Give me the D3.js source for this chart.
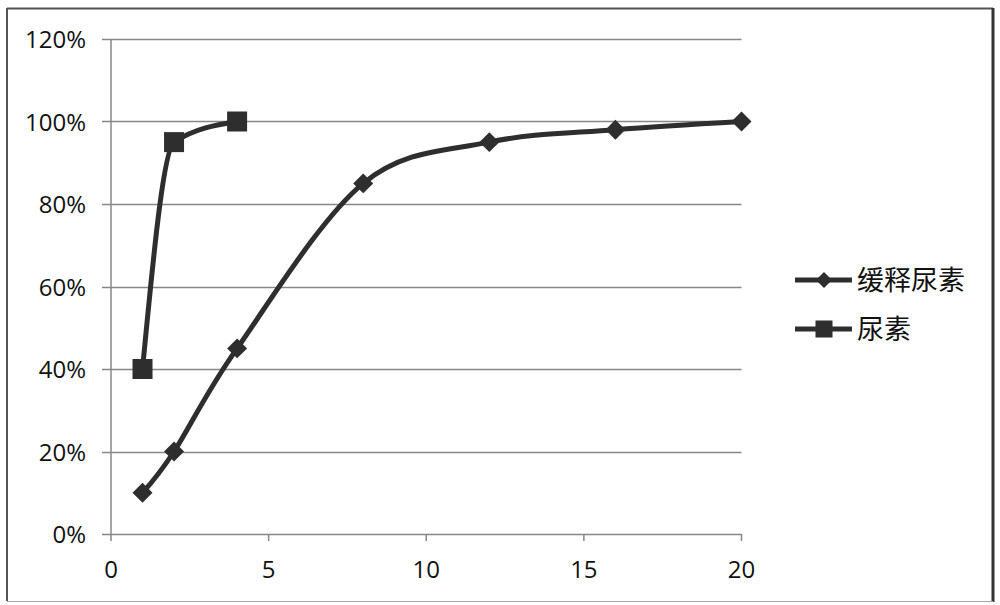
<!DOCTYPE html>
<html><head><meta charset="utf-8">
<script src="https://cdn.jsdelivr.net/npm/d3@7"></script>
<style>
html,body{margin:0;padding:0;background:#fff;}
svg{display:block;}
text{font-family:"Open Sans","Liberation Sans",sans-serif;fill:#111;}
</style></head>
<body><svg id="c" width="1000" height="605"></svg>
<script>
const seriesNames = ["缓释尿素", "尿素"];
const slowX = [1, 2, 4, 8, 12, 16, 20];
const slowY = [10, 20, 45, 85, 95, 98, 100];
const ureaX = [1, 2, 4];
const ureaY = [40, 95, 100];
const xTicks = [0, 5, 10, 15, 20];
const yTicks = [0, 20, 40, 60, 80, 100, 120];

const svg = d3.select("#c");
const col = "#2e2e2e";
const grid = "#878787";

// outer frame
svg.append("line").attr("x1",7).attr("x2",993).attr("y1",8.5).attr("y2",8.5).attr("stroke","#555").attr("stroke-width",2);
svg.append("line").attr("x1",7).attr("x2",7).attr("y1",8).attr("y2",601).attr("stroke","#555").attr("stroke-width",2);
svg.append("line").attr("x1",993).attr("x2",993).attr("y1",8).attr("y2",602).attr("stroke","#333").attr("stroke-width",3);
svg.append("line").attr("x1",7).attr("x2",993).attr("y1",601.5).attr("y2",601.5).attr("stroke","#aaa").attr("stroke-width",1);

const x = d3.scaleLinear().domain([0,20]).range([111,741.5]);
const y = d3.scaleLinear().domain([0,120]).range([534,39]);

// gridlines
svg.append("g").selectAll("line").data(yTicks).join("line")
  .attr("x1",102).attr("x2",x(20)).attr("y1",d=>Math.round(y(d))+0.5).attr("y2",d=>Math.round(y(d))+0.5)
  .attr("stroke",grid).attr("stroke-width",1.5);
// y axis line
svg.append("line").attr("x1",x(0)).attr("x2",x(0)).attr("y1",y(120)).attr("y2",y(0)).attr("stroke",grid).attr("stroke-width",1.5);
// x ticks
svg.append("g").selectAll("line").data(xTicks).join("line")
  .attr("x1",d=>x(d)).attr("x2",d=>x(d)).attr("y1",y(0)).attr("y2",y(0)+7)
  .attr("stroke",grid).attr("stroke-width",1.5);

// labels
svg.append("g").selectAll("text").data(yTicks).join("text")
  .attr("x",86).attr("y",d=>y(d)+9).attr("text-anchor","end").attr("font-size",24)
  .text(d=>d+"%");
svg.append("g").selectAll("text").data(xTicks).join("text")
  .attr("x",d=>x(d)).attr("y",578).attr("text-anchor","middle").attr("font-size",24)
  .text(d=>d);

const line = d3.line().x(d=>x(d[0])).y(d=>y(d[1])).curve(d3.curveCardinal.tension(0));
const line2 = d3.line().x(d=>x(d[0])).y(d=>y(d[1])).curve(d3.curveMonotoneX);
const slow = slowX.map((v,i)=>[v,slowY[i]]);
const urea = ureaX.map((v,i)=>[v,ureaY[i]]);

svg.append("path").attr("d",line(slow)).attr("fill","none").attr("stroke",col).attr("stroke-width",5);
svg.append("path").attr("d",line2(urea)).attr("fill","none").attr("stroke",col).attr("stroke-width",5);

const dia = d3.symbol().type(d3.symbolSquare).size(200);
svg.append("g").selectAll("path").data(slow).join("path")
  .attr("d",dia).attr("transform",d=>`translate(${x(d[0])},${y(d[1])}) rotate(45)`).attr("fill",col);
const sq = d3.symbol().type(d3.symbolSquare).size(400);
svg.append("g").selectAll("path").data(urea).join("path")
  .attr("d",sq).attr("transform",d=>`translate(${x(d[0])},${y(d[1])})`).attr("fill",col);

// legend
const leg = svg.append("g");
const ly = [280, 329];
leg.append("line").attr("x1",795).attr("x2",852).attr("y1",ly[0]).attr("y2",ly[0]).attr("stroke",col).attr("stroke-width",5);
leg.append("path").attr("d",d3.symbol().type(d3.symbolSquare).size(130)).attr("transform",`translate(824,${ly[0]}) rotate(45)`).attr("fill",col);
leg.append("line").attr("x1",795).attr("x2",852).attr("y1",ly[1]).attr("y2",ly[1]).attr("stroke",col).attr("stroke-width",5);
leg.append("path").attr("d",d3.symbol().type(d3.symbolSquare).size(290)).attr("transform",`translate(824,${ly[1]})`).attr("fill",col);
leg.selectAll("text").data(seriesNames).join("text")
  .attr("x",857).attr("y",(d,i)=>ly[i]+10).attr("font-size",27)
  .style("font-family","'Noto Sans CJK SC',sans-serif")
  .text(d=>d);
</script></body></html>
